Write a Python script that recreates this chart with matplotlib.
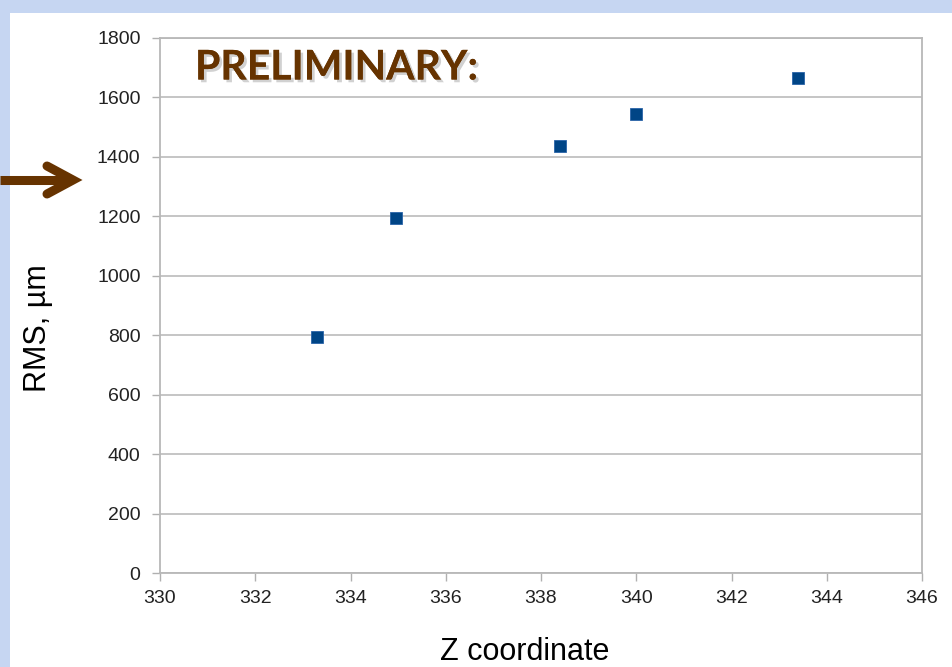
import numpy as np
import matplotlib
matplotlib.use("Agg")
import matplotlib.pyplot as plt
import matplotlib.patheffects as pe
from matplotlib.patches import Rectangle
from matplotlib.lines import Line2D

# data
zCoord = [333.3, 334.95, 338.4, 340.0, 343.4]
rmsValues = [795, 1195, 1435, 1545, 1665]

xTicks = [330, 332, 334, 336, 338, 340, 342, 344, 346]
yTicks = [0, 200, 400, 600, 800, 1000, 1200, 1400, 1600, 1800]

brown = "#663300"
markerBlue = "#004586"

plt.rcParams['font.family'] = ['Liberation Sans', 'DejaVu Sans']

fig = plt.figure(figsize=(9.53, 6.67), dpi=100)
fig.patch.set_facecolor("#c6d6f2")

# white slide area (behind everything)
fig.patches.append(Rectangle((10/953, 0), 1, 1 - 13/667, transform=fig.transFigure,
                             facecolor="white", edgecolor="none", zorder=-5))

ax = fig.add_axes([160/953, 1 - 573/667, 762/953, 535/667])
ax.set_facecolor("white")

ax.plot(zCoord, rmsValues, linestyle="none", marker="s", markersize=8.5,
        markerfacecolor=markerBlue, markeredgecolor="#2a64a8", markeredgewidth=0.6, zorder=3)

ax.set_xlim(330, 346)
ax.set_ylim(0, 1800)
ax.set_xticks(xTicks)
ax.set_yticks(yTicks)
ax.set_xticklabels([str(v) for v in xTicks], fontsize=14, color="#222222")
ax.set_yticklabels([str(v) for v in yTicks], fontsize=14, color="#222222")
ax.tick_params(axis="both", direction="out", length=6, color="#b0b0b0", width=1)
ax.tick_params(axis="x", pad=6)
ax.tick_params(axis="y", pad=8)

ax.yaxis.grid(True, color="#c0c0c0", linewidth=1.3)
ax.set_axisbelow(True)
for side in ["left", "right", "top", "bottom"]:
    ax.spines[side].set_color("#b8b8b8")
    ax.spines[side].set_linewidth(1.3)

fig.text(525/953, 1 - 652/667, "Z coordinate", fontsize=22, ha="center", va="center", color="black")
fig.text(38/953, 1 - 328/667, "RMS, µm", fontsize=22, rotation=90, ha="center", va="center", color="black")

fig.text(195/953, 1 - 68/667, "PRELIMINARY:", fontsize=29.5, fontweight="bold", family=["Lato", "DejaVu Sans"],
         color=brown, ha="left", va="center",
         path_effects=[pe.withSimplePatchShadow(offset=(2, -2), shadow_rgbFace="#999999", alpha=0.45), pe.Normal()])

# brown arrow pointing at the axis
fig.lines.append(Line2D([0, 68/953], [1 - 180/667, 1 - 180/667], transform=fig.transFigure,
                        color=brown, linewidth=6.5, solid_capstyle="butt"))
fig.lines.append(Line2D([47/953, 73/953, 47/953],
                        [1 - 166/667, 1 - 180/667, 1 - 194/667], transform=fig.transFigure,
                        color=brown, linewidth=6.5, solid_capstyle="round", solid_joinstyle="miter"))

fig.savefig("out.png", dpi=100, facecolor=fig.get_facecolor())
